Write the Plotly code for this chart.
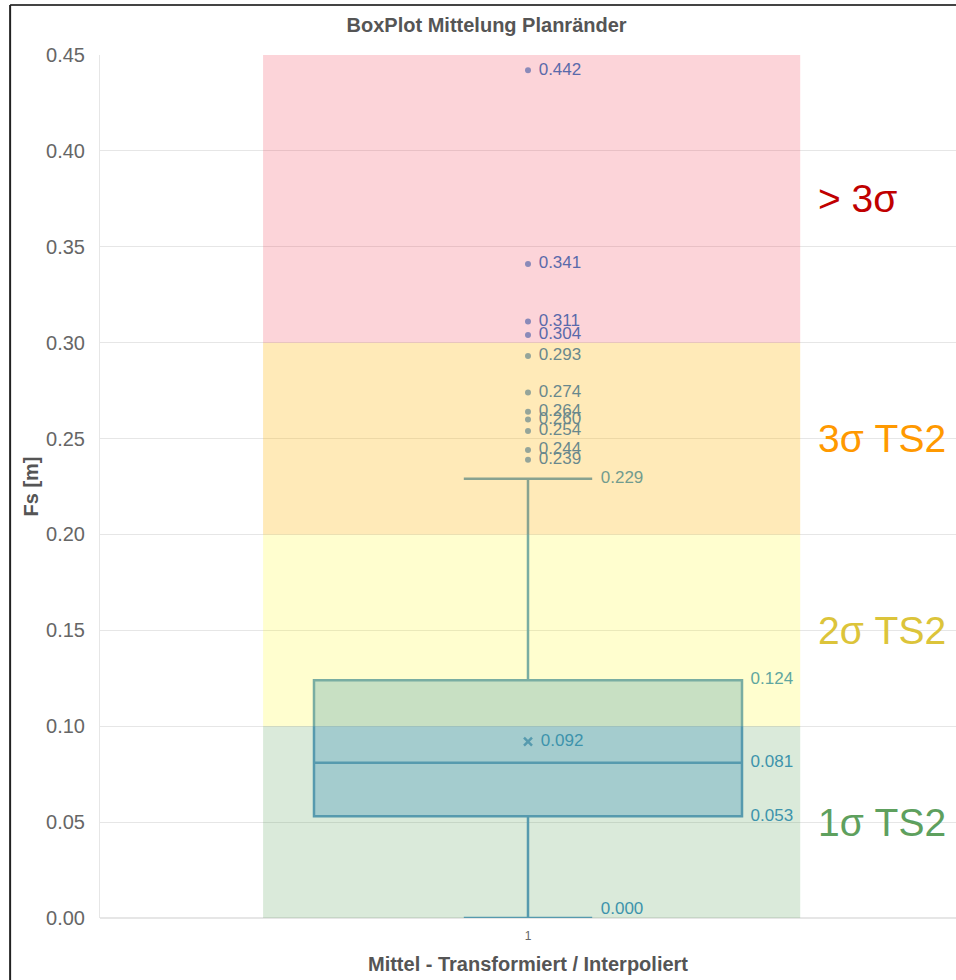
import plotly.graph_objects as go

# box statistics
q1 = 0.053
median = 0.081
q3 = 0.124
lower_fence = 0.000
upper_fence = 0.229
mean = 0.092
outliers = [0.442, 0.341, 0.311, 0.304, 0.293, 0.274, 0.264, 0.260, 0.254, 0.244, 0.239]

# sigma bands
band_low = [0.0, 0.1, 0.2, 0.3]
band_high = [0.1, 0.2, 0.3, 0.45]
band_labels = ["1σ TS2", "2σ TS2", "3σ TS2", "> 3σ"]
band_label_y = [0.05, 0.15, 0.25, 0.375]
band_fill = ["rgba(70,150,70,0.20)", "rgba(255,250,0,0.19)",
             "rgba(255,180,0,0.28)", "rgba(240,60,80,0.22)"]
band_text = ["#5ea05e", "#dcc43a", "#ff9900", "#c00000"]

BLUE = "#3b93c6"
FONT = "Arial, Liberation Sans, sans-serif"
LBL = dict(color=BLUE, size=17, family=FONT)

fig = go.Figure()

fig.add_trace(go.Box(
    x=[1], q1=[q1], median=[median], q3=[q3],
    lowerfence=[lower_fence], upperfence=[upper_fence],
    width=1.0, whiskerwidth=0.3,
    fillcolor="rgba(47,140,210,0.32)",
    line=dict(color="#5a9cc8", width=2.5),
    boxpoints=False, showlegend=False, hoverinfo="skip",
))

# outliers
fig.add_trace(go.Scatter(
    x=[1] * len(outliers), y=outliers, mode="markers",
    marker=dict(color="rgba(47,120,196,0.7)", size=6),
    showlegend=False, hoverinfo="skip",
))
fig.add_trace(go.Scatter(
    x=[1.025] * len(outliers), y=outliers, mode="text",
    text=[f"{v:.3f}" for v in outliers], textposition="middle right",
    textfont=dict(color="#2f78c4", size=17, family=FONT),
    showlegend=False, hoverinfo="skip",
))

# mean
fig.add_trace(go.Scatter(
    x=[1], y=[mean], mode="markers",
    marker=dict(symbol="x-thin", color=BLUE, size=8, line=dict(width=2.5, color="#5a9cc8")),
    showlegend=False, hoverinfo="skip",
))
fig.add_trace(go.Scatter(
    x=[1.03], y=[mean], mode="text", text=[f"{mean:.3f}"],
    textposition="middle right", textfont=LBL,
    showlegend=False, hoverinfo="skip",
))

# box labels
fig.add_trace(go.Scatter(
    x=[1.52] * 3, y=[q3, median, q1], mode="text",
    text=[f"{v:.3f}" for v in [q3, median, q1]],
    textposition="middle right", textfont=LBL,
    showlegend=False, hoverinfo="skip",
))

# whisker labels
fig.add_trace(go.Scatter(
    x=[1.17], y=[upper_fence], mode="text", text=[f"{upper_fence:.3f}"],
    textposition="middle right", textfont=LBL,
    showlegend=False, hoverinfo="skip",
))
fig.add_trace(go.Scatter(
    x=[1.17], y=[lower_fence], mode="text", text=[f"{lower_fence:.3f}"],
    textposition="top right", textfont=LBL, cliponaxis=False,
    showlegend=False, hoverinfo="skip",
))

for lo, hi, col in zip(band_low, band_high, band_fill):
    fig.add_shape(type="rect", xref="x", yref="y", x0=0.381, x1=1.636,
                  y0=lo, y1=hi, fillcolor=col, line=dict(width=0), layer="above")

for lab, y, col in zip(band_labels, band_label_y, band_text):
    fig.add_annotation(x=1.672, y=y, xref="x", yref="y", text=lab, showarrow=False,
                       xanchor="left", yanchor="middle",
                       font=dict(size=39, color=col, family=FONT))

# screenshot frame
fig.add_shape(type="line", xref="paper", yref="paper", x0=-0.105, x1=1.01, y0=1.058, y1=1.058,
              line=dict(color="#444444", width=2))
fig.add_shape(type="line", xref="paper", yref="paper", x0=-0.105, x1=-0.105, y0=1.058, y1=-0.08,
              line=dict(color="#222222", width=2))

fig.update_layout(
    width=956, height=980,
    margin=dict(l=100, r=0, t=55, b=62),
    paper_bgcolor="white", plot_bgcolor="white",
    font=dict(family=FONT, color="#555555"),
    title=dict(text="<b>BoxPlot Mittelung Planränder</b>", x=0.509, xanchor="center",
               y=0.9745, yanchor="middle", font=dict(size=20, color="#555555")),
    xaxis=dict(range=[0, 2], tickvals=[1], ticktext=["1"], showgrid=False,
               zeroline=False, showline=False, ticklabelstandoff=9,
               tickfont=dict(size=12, color="#666"),
               title=dict(text="<b>Mittel - Transformiert / Interpoliert</b>",
                          font=dict(size=20, color="#555555"), standoff=14)),
    yaxis=dict(range=[0, 0.45], dtick=0.05, tickformat=".2f", gridcolor="#e6e6e6",
               zeroline=True, zerolinecolor="#e6e6e6", zerolinewidth=2,
               showline=True, linecolor="#e6e6e6", ticklabelstandoff=10,
               tickfont=dict(size=20, color="#666666"),
               title=dict(text="<b>Fs [m]</b>", font=dict(size=20, color="#555555"), standoff=2)),
)

# page without the default body margin, so the figure fills the window exactly
fig.write_html("out.html", config={"displayModeBar": False},
               post_script="document.body.style.margin='0';")
